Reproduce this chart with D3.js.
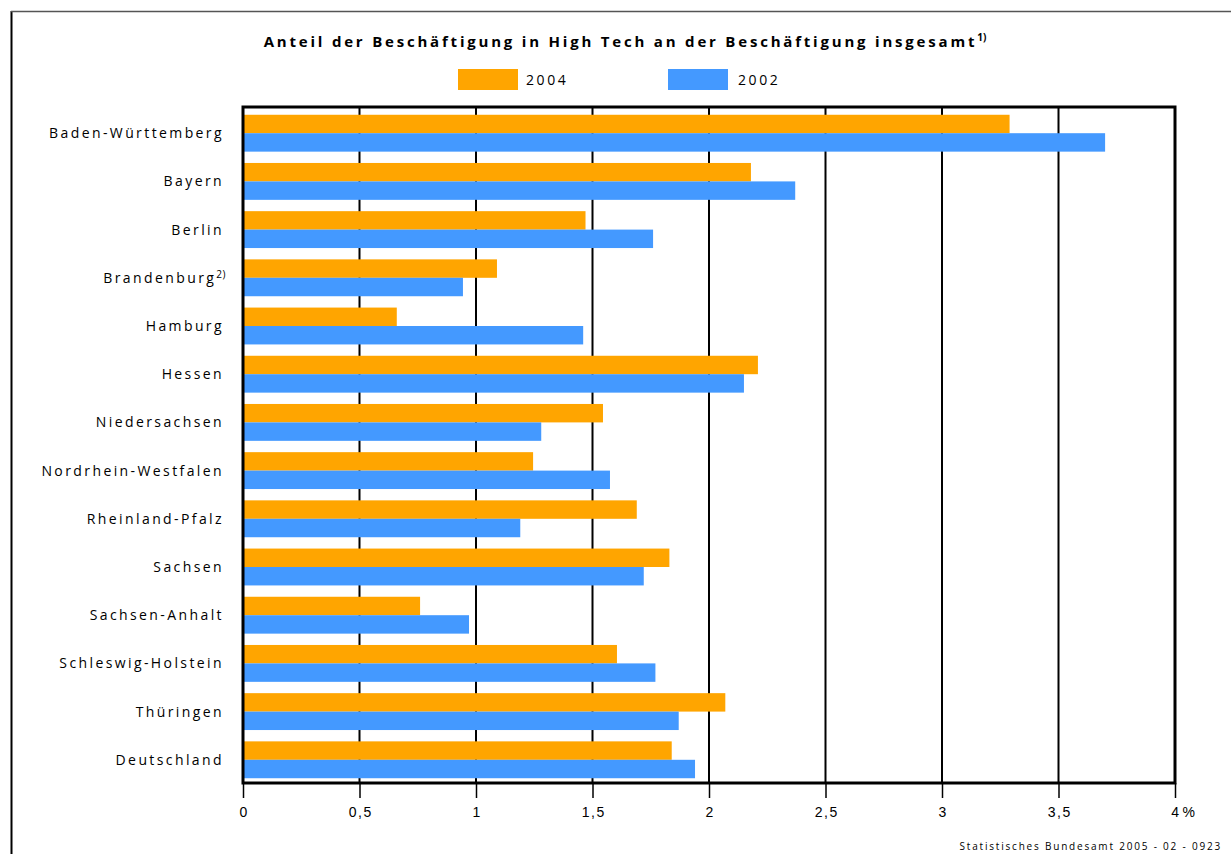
<!DOCTYPE html>
<html><head><meta charset="utf-8">
<script src="https://cdn.jsdelivr.net/npm/d3@7"></script>
<style>
html,body{margin:0;padding:0;background:#fff;}
svg{display:block;font-family:"Open Sans","DejaVu Sans",sans-serif;}
</style></head>
<body>
<svg id="c" width="1231" height="854"></svg>
<script>
const categories = ["Baden-Württemberg","Bayern","Berlin","Brandenburg","Hamburg","Hessen","Niedersachsen","Nordrhein-Westfalen","Rheinland-Pfalz","Sachsen","Sachsen-Anhalt","Schleswig-Holstein","Thüringen","Deutschland"];
const footnotes = {"Brandenburg":"2)"};
const values2004 = [3.29,2.18,1.47,1.09,0.66,2.21,1.545,1.245,1.69,1.83,0.76,1.605,2.07,1.84];
const values2002 = [3.70,2.37,1.76,0.944,1.46,2.15,1.28,1.575,1.19,1.72,0.97,1.77,1.87,1.94];
const seriesNames = ["2004","2002"];
const seriesColors = ["#FFA500","#4499FF"];
const tickValues = [0,0.5,1,1.5,2,2.5,3,3.5,4];
const tickLabels = ["0","0,5","1","1,5","2","2,5","3","3,5","4"];
const titleText = "Anteil der Beschäftigung in High Tech an der Beschäftigung insgesamt";
const sourceText = "Statistisches Bundesamt 2005 - 02 - 0923";

const svg = d3.select("#c");
const L=243, R=1175, T=107, B=783;
const x = d3.scaleLinear().domain([0,4]).range([L,R]);
const y = d3.scaleBand().domain(categories).range([T+1.5,B+1.5]).paddingInner(0.235).paddingOuter(0.13);
const ySub = d3.scaleBand().domain(seriesNames).range([0,y.bandwidth()]);

// outer frame
svg.append("line").attr("x1",11.5).attr("x2",11.5).attr("y1",11).attr("y2",854).attr("stroke","#000").attr("stroke-width",2);
svg.append("line").attr("x1",11).attr("x2",1231).attr("y1",11.5).attr("y2",11.5).attr("stroke","#555").attr("stroke-width",1.5);

// gridlines
svg.append("g").selectAll("line").data(tickValues.slice(1,-1)).join("line")
  .attr("x1",d=>x(d)).attr("x2",d=>x(d)).attr("y1",T).attr("y2",B)
  .attr("stroke","#000").attr("stroke-width",2);

// bars
const data = categories.map((c,i)=>({c, v:[values2004[i],values2002[i]]}));
const g = svg.append("g");
data.forEach(d=>{
  seriesNames.forEach((s,j)=>{
    g.append("rect").attr("x",x(0)).attr("y",y(d.c)+ySub(s))
     .attr("width",x(d.v[j])-x(0)).attr("height",ySub.bandwidth())
     .attr("fill",seriesColors[j]);
  });
});

// plot frame
svg.append("rect").attr("x",L).attr("y",T).attr("width",R-L).attr("height",B-T)
  .attr("fill","none").attr("stroke","#000").attr("stroke-width",3);

// x axis ticks and labels
const ax = svg.append("g").attr("transform",`translate(0,${B})`)
  .call(d3.axisBottom(x).tickValues(tickValues).tickSize(15).tickFormat((d,i)=>tickLabels[i]));
ax.select(".domain").remove();
ax.selectAll(".tick line").attr("stroke","#000").attr("stroke-width",1.5);
ax.selectAll(".tick text").attr("font-size",14).attr("fill","#000").attr("letter-spacing","1.5px").attr("dy","1.15em").attr("dx","0.7px");
ax.selectAll(".tick").filter(d=>d===4).select("text").text("4").append("tspan").attr("dx","2px").text("%");
ax.selectAll(".tick").filter(d=>d===4).select("text").attr("text-anchor","start").attr("x",-5);

// category labels
const lab = svg.append("g");
categories.forEach(c=>{
  const t = lab.append("text").attr("x",224).attr("y",y(c)+y.bandwidth()/2+5)
    .attr("text-anchor","end").attr("font-size",14).attr("letter-spacing","2.4px").attr("fill","#000");
  if(footnotes[c]){
    t.attr("x",226);
    t.append("tspan").text(c);
    t.append("tspan").attr("font-size",10).attr("dy",-5).attr("letter-spacing","0.5px").text(footnotes[c]);
  } else {
    t.text(c);
  }
});

// title
const tt = svg.append("text").attr("x",625).attr("y",47).attr("text-anchor","middle")
  .attr("font-size",15).attr("font-weight","bold").attr("letter-spacing","2.8px").attr("fill","#000");
tt.append("tspan").text(titleText);
tt.append("tspan").attr("font-size",10).attr("dy",-6).attr("letter-spacing","0px").text("1)");

// legend
const legX = [458,668];
seriesNames.forEach((s,j)=>{
  svg.append("rect").attr("x",legX[j]).attr("y",69).attr("width",60).attr("height",21).attr("fill",seriesColors[j]);
  svg.append("text").attr("x",legX[j]+68+(j?2:0)).attr("y",85).attr("font-size",14).attr("letter-spacing","2.6px").attr("fill","#000").text(s);
});

// source
svg.append("text").attr("x",1222).attr("y",850).attr("text-anchor","end").attr("font-size",10)
  .attr("letter-spacing","1.8px").attr("fill","#000").text(sourceText);
</script>
</body></html>
